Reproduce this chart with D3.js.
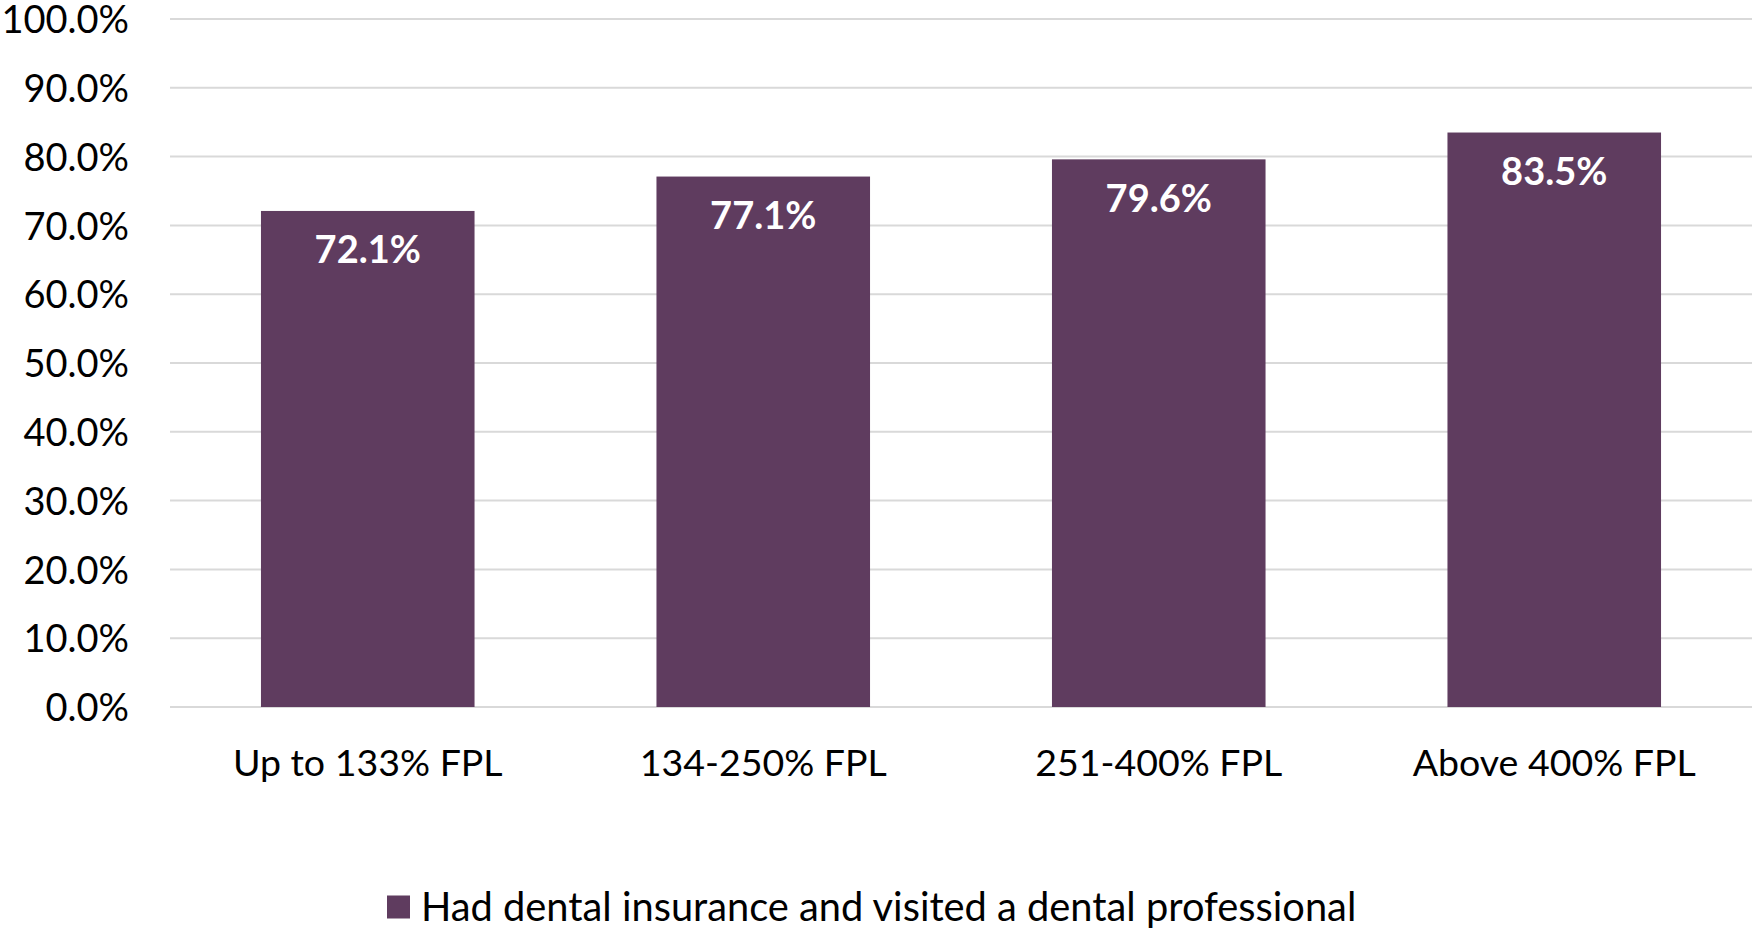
<!DOCTYPE html>
<html>
<head>
<meta charset="utf-8">
<script src="https://cdn.jsdelivr.net/npm/d3@7"></script>
<style>
  html, body { margin: 0; padding: 0; background: #fff; }
  svg { display: block; font-family: Lato, 'Open Sans', sans-serif; }
</style>
</head>
<body>
<div id="chart"></div>
<script>
// chart values
const categories = ['Up to 133% FPL', '134-250% FPL', '251-400% FPL', 'Above 400% FPL'];
const values = [72.1, 77.1, 79.6, 83.5];
const yTicks = [0, 10, 20, 30, 40, 50, 60, 70, 80, 90, 100];
const seriesName = 'Had dental insurance and visited a dental professional';

const W = 1752;
const H = 933;
const margin = { top: 19, right: 0, bottom: 226, left: 170 };
const width = W - margin.left - margin.right;
const height = H - margin.top - margin.bottom;
const barColor = '#5f3c5f';

const svg = d3.select('#chart').append('svg')
  .attr('width', W)
  .attr('height', H);

const g = svg.append('g')
  .attr('transform', `translate(${margin.left},${margin.top})`);

const x = d3.scaleBand()
  .domain(categories)
  .range([0, width])
  .paddingInner(0.46)
  .paddingOuter(0.23);

const y = d3.scaleLinear()
  .domain([0, 100])
  .range([height, 0]);

// gridlines
g.append('g')
  .selectAll('line')
  .data(yTicks)
  .enter().append('line')
    .attr('x1', 0)
    .attr('x2', width)
    .attr('y1', d => y(d))
    .attr('y2', d => y(d))
    .attr('stroke', '#d9d9d9')
    .attr('stroke-width', 2);

// y axis labels
const yAxis = g.append('g')
  .call(d3.axisLeft(y).tickValues(yTicks).tickSize(0).tickPadding(41)
    .tickFormat(d => `${d.toFixed(1)}%`));
yAxis.select('.domain').remove();
yAxis.selectAll('text')
  .attr('fill', '#000')
  .attr('dy', '0.36em')
  .style('font-size', '38px')
  .style('font-family', 'Lato, sans-serif');

// bars
g.selectAll('.bar')
  .data(values)
  .enter().append('rect')
    .attr('class', 'bar')
    .attr('x', (d, i) => x(categories[i]))
    .attr('y', d => y(d))
    .attr('width', x.bandwidth())
    .attr('height', d => height - y(d))
    .attr('fill', barColor);

// value labels
g.selectAll('.val')
  .data(values)
  .enter().append('text')
    .attr('class', 'val')
    .attr('x', (d, i) => x(categories[i]) + x.bandwidth() / 2)
    .attr('y', d => y(d) + 39)
    .attr('dy', '0.35em')
    .attr('text-anchor', 'middle')
    .attr('fill', '#fff')
    .style('font-weight', 'bold')
    .style('font-size', '38px')
    .text(d => `${d.toFixed(1)}%`);

// x axis labels
const xAxis = g.append('g')
  .attr('transform', `translate(0,${height})`)
  .call(d3.axisBottom(x).tickSize(0).tickPadding(0));
xAxis.select('.domain').remove();
xAxis.selectAll('text')
  .attr('y', 56)
  .attr('dy', '0.35em')
  .attr('fill', '#000')
  .style('font-size', '37.5px')
  .style('font-family', 'Lato, sans-serif');

// legend
const legend = svg.append('g')
  .attr('transform', 'translate(387,907)');
legend.append('rect')
  .attr('x', 0)
  .attr('y', -11.5)
  .attr('width', 23)
  .attr('height', 23)
  .attr('fill', barColor);
legend.append('text')
  .attr('x', 34)
  .attr('y', 0)
  .attr('dy', '0.35em')
  .attr('fill', '#000')
  .style('font-size', '39.8px')
  .text(seriesName);
</script>
</body>
</html>
